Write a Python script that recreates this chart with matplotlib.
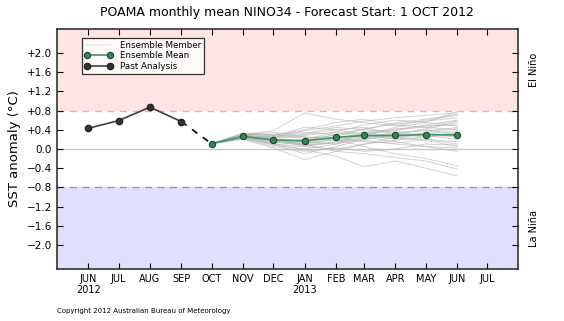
import numpy as np
import matplotlib
matplotlib.use("Agg")
import matplotlib.pyplot as plt
import matplotlib.dates as mdates

# Observed monthly NINO34 anomalies before the forecast start
past_months = np.array(['2012-06-01', '2012-07-01', '2012-08-01', '2012-09-01'], dtype='datetime64[D]')
past_values = [0.43, 0.59, 0.87, 0.57]

# Forecast months (OCT 2012 .. JUN 2013)
fc_months = np.array(['2012-10-01', '2012-11-01', '2012-12-01', '2013-01-01', '2013-02-01',
                      '2013-03-01', '2013-04-01', '2013-05-01', '2013-06-01'], dtype='datetime64[D]')
mean_values = [0.11, 0.26, 0.19, 0.17, 0.24, 0.28, 0.28, 0.30, 0.29]

# Individual ensemble members
members = [
    [0.11, 0.30, 0.38, 0.75, 0.62, 0.55, 0.48, 0.60, 0.70],
    [0.11, 0.24, 0.10, -0.10, 0.05, 0.20, 0.30, 0.42, 0.55],
    [0.11, 0.28, 0.22, 0.05, 0.15, 0.30, 0.45, 0.55, 0.78],
    [0.11, 0.20, 0.02, -0.22, -0.05, 0.10, 0.25, 0.20, 0.15],
    [0.11, 0.32, 0.28, 0.40, 0.55, 0.62, 0.50, 0.45, 0.40],
    [0.11, 0.26, 0.15, 0.10, 0.20, 0.05, -0.10, -0.20, -0.35],
    [0.11, 0.22, 0.08, 0.00, 0.10, 0.35, 0.40, 0.50, 0.60],
    [0.11, 0.30, 0.30, 0.35, 0.30, 0.40, 0.55, 0.62, 0.72],
    [0.11, 0.25, 0.12, -0.02, -0.15, -0.37, -0.25, -0.40, -0.56],
    [0.11, 0.29, 0.25, 0.30, 0.40, 0.45, 0.30, 0.25, 0.35],
    [0.11, 0.24, 0.20, 0.15, 0.25, 0.30, 0.20, 0.35, 0.45],
    [0.11, 0.28, 0.24, 0.25, 0.18, 0.22, 0.35, 0.28, 0.20],
    [0.11, 0.31, 0.27, 0.45, 0.40, 0.30, 0.38, 0.48, 0.50],
    [0.11, 0.23, 0.14, 0.08, 0.12, 0.18, 0.10, 0.05, 0.02],
    [0.11, 0.26, 0.20, 0.18, 0.30, 0.42, 0.52, 0.58, 0.65],
    [0.11, 0.27, 0.16, 0.12, 0.20, 0.25, 0.32, 0.40, 0.30],
    [0.11, 0.25, 0.22, 0.28, 0.35, 0.50, 0.60, 0.55, 0.48],
    [0.11, 0.21, 0.05, -0.05, 0.02, -0.05, 0.00, 0.10, 0.08],
    [0.11, 0.33, 0.30, 0.22, 0.28, 0.35, 0.25, 0.30, 0.25],
    [0.11, 0.26, 0.18, 0.14, 0.22, 0.15, 0.12, 0.20, 0.10],
    [0.11, 0.24, 0.12, 0.20, 0.35, 0.28, 0.22, 0.18, 0.05],
    [0.11, 0.28, 0.26, 0.32, 0.45, 0.40, 0.35, 0.38, 0.42],
    [0.11, 0.22, 0.10, 0.05, 0.00, 0.10, 0.18, 0.25, 0.30],
    [0.11, 0.29, 0.20, 0.10, -0.05, -0.10, -0.18, -0.25, -0.42],
    [0.11, 0.27, 0.24, 0.38, 0.48, 0.58, 0.65, 0.70, 0.75],
    [0.11, 0.25, 0.16, 0.08, 0.15, 0.20, 0.28, 0.32, 0.38],
    [0.11, 0.30, 0.34, 0.25, 0.22, 0.30, 0.42, 0.45, 0.58],
    [0.11, 0.23, 0.18, 0.15, 0.10, 0.25, 0.15, 0.05, -0.05],
]

tick_months = np.array(['2012-06-01', '2012-07-01', '2012-08-01', '2012-09-01', '2012-10-01',
                        '2012-11-01', '2012-12-01', '2013-01-01', '2013-02-01', '2013-03-01',
                        '2013-04-01', '2013-05-01', '2013-06-01', '2013-07-01'], dtype='datetime64[D]')
tick_labels = ['JUN\n2012', 'JUL', 'AUG', 'SEP', 'OCT', 'NOV', 'DEC', 'JAN\n2013',
               'FEB', 'MAR', 'APR', 'MAY', 'JUN', 'JUL']

yticks = [2.0, 1.6, 1.2, 0.8, 0.4, 0.0, -0.4, -0.8, -1.2, -1.6, -2.0]
ytick_labels = ['+2.0', '+1.6', '+1.2', '+0.8', '+0.4', '0.0',
                '\u22120.4', '\u22120.8', '\u22121.2', '\u22121.6', '\u22122.0']

fig = plt.figure(figsize=(5.64, 3.21), dpi=100)
ax = fig.add_axes([0.101, 0.162, 0.817, 0.748])

# El Nino / La Nina bands
ax.axhspan(0.8, 2.5, color='#ffe5e5', zorder=0, lw=0)
ax.axhspan(-2.5, -0.8, color='#e0e0fd', zorder=0, lw=0)
ax.axhline(0.8, color='#ffaaaa', ls='--', lw=1, dashes=(5, 4), zorder=1)
ax.axhline(-0.8, color='#8c8ce8', ls='--', lw=1, dashes=(5, 4), zorder=1)
ax.axhline(0.0, color='#c8c8c8', lw=1, zorder=1)

for i, m in enumerate(members):
    ax.plot(fc_months, m, color='#b4b4b4', lw=0.7, alpha=0.6, zorder=2,
            label='Ensemble Member' if i == 0 else None)

ax.plot(fc_months, mean_values, color='#3a9a6a', lw=1.2, marker='o', ms=4.5,
        mfc='#2e8b57', mec='#1f3f2f', mew=0.8, zorder=4, label='Ensemble Mean')
ax.plot(past_months, past_values, color='#404040', lw=1.2, marker='o', ms=4.5,
        mfc='#333333', mec='#222222', zorder=4, label='Past Analysis')
# dashed link from last analysis to first forecast month
ax.plot([past_months[-1], fc_months[0]], [past_values[-1], mean_values[0]],
        color='black', lw=1.2, ls='--', dashes=(4, 4), zorder=3)

ax.set_xlim(np.datetime64('2012-05-01'), np.datetime64('2013-07-31'))
ax.set_ylim(-2.5, 2.5)
ax.set_xticks(mdates.date2num(tick_months.astype('datetime64[ms]').astype(object)))
ax.set_xticklabels(tick_labels, fontsize=7)
ax.set_yticks(yticks)
ax.set_yticklabels(ytick_labels, fontsize=7.5)
ax.tick_params(direction='in', top=True, right=True, length=4, width=0.8)
for s in ax.spines.values():
    s.set_linewidth(1.2)
    s.set_color('#333333')

ax.set_ylabel('SST anomaly (\u00b0C)', fontsize=9.5)
ax.set_title('POAMA monthly mean NINO34 - Forecast Start: 1 OCT 2012', fontsize=9, pad=9)

ax.text(1.035, 0.83, 'El Ni\u00f1o', transform=ax.transAxes, rotation=90,
        ha='center', va='center', fontsize=7)
ax.text(1.035, 0.17, 'La Ni\u00f1a', transform=ax.transAxes, rotation=90,
        ha='center', va='center', fontsize=7)

leg = ax.legend(loc='upper left', bbox_to_anchor=(0.045, 0.98), fontsize=6.3,
                frameon=True, fancybox=False, borderpad=0.3, labelspacing=0.2,
                handlelength=3.2, handletextpad=0.8, numpoints=2)
leg.get_frame().set_edgecolor('black')
leg.get_frame().set_linewidth(0.9)
for lh in leg.get_lines():
    if lh.get_label() == 'Ensemble Member':
        lh.set_alpha(0.5)
        lh.set_color('#dddddd')
        lh.set_linewidth(1.5)

fig.text(0.101, 0.025, 'Copyright 2012 Australian Bureau of Meteorology', fontsize=5)

fig.savefig('out.png', dpi=100)
